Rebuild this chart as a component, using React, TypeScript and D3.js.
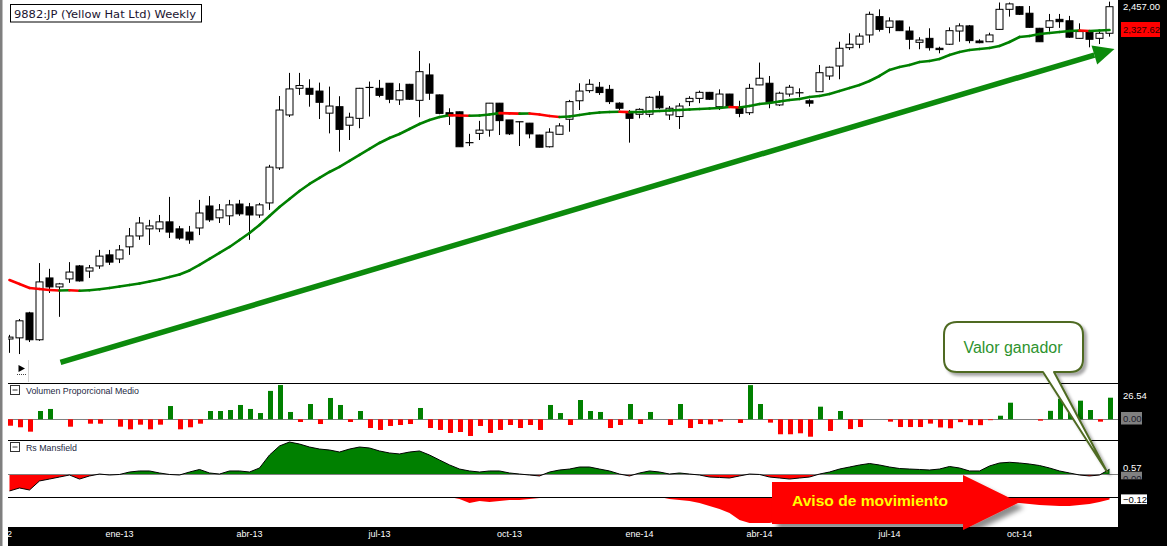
import React from "react";
import * as d3 from "d3";

const WIDTH = 1167;
const HEIGHT = 546;

// Weekly bars of 9882:JP, late Oct 2012 to early Dec 2014 (yen)
const opens = [
  1136, 1139, 1207, 1134, 1309, 1282, 1306, 1346, 1330, 1346,
  1381, 1368, 1407, 1443, 1467, 1467, 1491, 1467, 1456, 1470,
  1547, 1505, 1512, 1554, 1544, 1515, 1558, 1690, 1911, 2033,
  2033, 2020, 1919, 1948, 1866, 1896, 2036, 2033, 2057, 1979,
  2052, 1977, 2097, 2002, 1921, 1925, 1792, 1831, 1845, 1964,
  1889, 1881, 1875, 1824, 1775, 1827, 1892, 1975, 2022, 2038,
  2028, 1964, 1926, 1914, 1914, 1996, 1911, 1904, 1971, 1986,
  2014, 1948, 2006, 1945, 1921, 2049, 2057, 1956, 2006, 2013,
  1975, 2017, 2092, 2141, 2234, 2252, 2301, 2401, 2342, 2377,
  2322, 2262, 2283, 2231, 2252, 2322, 2350, 2269, 2265, 2331,
  2442, 2457, 2420, 2337, 2342, 2386, 2378, 2283, 2319, 2283,
  2310,
];
const highs = [
  1147, 1190, 1210, 1355, 1337, 1294, 1358, 1349, 1349, 1397,
  1397, 1413, 1470, 1508, 1498, 1515, 1580, 1477, 1477, 1569,
  1583, 1554, 1569, 1569, 1558, 1558, 1702, 1997, 2107, 2107,
  2076, 2060, 2041, 1996, 1921, 2035, 2065, 2073, 2058, 2057,
  2054, 2217, 2154, 2004, 1941, 1926, 1829, 1885, 1965, 1965,
  1889, 1882, 1876, 1825, 1853, 1875, 1979, 2057, 2076, 2063,
  2049, 1968, 1933, 1941, 1996, 2020, 1951, 1964, 1996, 2022,
  2016, 2028, 2007, 1975, 2054, 2158, 2092, 2017, 2049, 2033,
  1982, 2146, 2138, 2265, 2310, 2310, 2429, 2442, 2397, 2378,
  2346, 2289, 2337, 2239, 2342, 2364, 2355, 2278, 2313, 2481,
  2481, 2461, 2461, 2339, 2416, 2416, 2405, 2364, 2320, 2319,
  2486,
];
const lows = [
  1100, 1097, 1128, 1131, 1264, 1196, 1294, 1298, 1309, 1337,
  1349, 1355, 1381, 1430, 1413, 1456, 1436, 1430, 1417, 1446,
  1491, 1487, 1480, 1512, 1430, 1505, 1533, 1682, 1902, 2002,
  1948, 1893, 1831, 1755, 1803, 1853, 1904, 1991, 1964, 1956,
  1979, 1901, 1979, 1914, 1867, 1775, 1778, 1803, 1817, 1824,
  1824, 1778, 1810, 1773, 1772, 1826, 1838, 1933, 2012, 2002,
  1960, 1933, 1792, 1896, 1901, 1938, 1889, 1850, 1951, 1964,
  1979, 1933, 1947, 1901, 1911, 2048, 1941, 1951, 1994, 1991,
  1948, 2016, 2073, 2076, 2222, 2231, 2260, 2319, 2310, 2322,
  2226, 2226, 2219, 2205, 2248, 2265, 2257, 2257, 2264, 2328,
  2401, 2410, 2339, 2264, 2319, 2339, 2285, 2281, 2236, 2253,
  2292,
];
const closes = [
  1141, 1185, 1134, 1297, 1282, 1291, 1327, 1300, 1340, 1377,
  1358, 1397, 1443, 1487, 1477, 1491, 1456, 1436, 1430, 1522,
  1498, 1533, 1551, 1519, 1515, 1551, 1693, 1933, 2030, 2046,
  2005, 1968, 1951, 1848, 1901, 2033, 2038, 2000, 1982, 2022,
  1982, 2113, 2010, 1918, 1907, 1775, 1792, 1845, 1964, 1886,
  1829, 1881, 1829, 1773, 1836, 1863, 1971, 2020, 2052, 2013,
  1971, 1941, 1896, 1936, 1991, 1943, 1941, 1951, 1986, 2014,
  1982, 2006, 1948, 1918, 2033, 2081, 1971, 2010, 2038, 2011,
  1964, 2108, 2135, 2231, 2252, 2295, 2414, 2331, 2377, 2324,
  2278, 2274, 2234, 2224, 2324, 2350, 2271, 2260, 2301, 2442,
  2473, 2414, 2342, 2265, 2378, 2373, 2289, 2319, 2278, 2310,
  2457,
];

// Moving average of the close, drawn green while rising and red while falling
const movingAverage = [
  1302.8, 1290.8, 1278.9, 1275.9, 1272.9, 1271.4, 1272.0, 1270.6, 1272.3, 1275.0,
  1278.9, 1283.4, 1287.8, 1292.3, 1298.3, 1304.3, 1312.0, 1319.6, 1331.9, 1349.1,
  1367.9, 1387.2, 1406.6, 1429.6, 1453.1, 1480.3, 1511.6, 1543.5, 1572.4, 1601.8,
  1628.1, 1650.9, 1674.1, 1693.7, 1717.4, 1741.6, 1765.9, 1790.7, 1811.6, 1828.5,
  1849.7, 1871.4, 1888.8, 1902.1, 1909.7, 1908.3, 1907.4, 1908.8, 1913.2, 1919.0,
  1918.1, 1916.8, 1917.7, 1913.2, 1906.5, 1902.1, 1904.3, 1911.0, 1917.7, 1922.2,
  1924.4, 1925.3, 1923.5, 1924.4, 1926.7, 1928.9, 1930.9, 1933.1, 1935.4, 1937.6,
  1939.9, 1942.2, 1946.7, 1944.4, 1951.3, 1960.3, 1964.9, 1971.7, 1978.5, 1983.2,
  1992.5, 1997.1, 2006.4, 2020.4, 2034.5, 2048.8, 2067.7, 2092.0, 2121.3, 2136.2,
  2146.2, 2161.1, 2166.0, 2176.2, 2196.6, 2211.9, 2222.1, 2227.3, 2232.5, 2242.9,
  2263.8, 2290.2, 2295.5, 2306.2, 2311.5, 2316.9, 2322.3, 2325.0, 2322.3, 2325.0,
  2327.62,
];

// Volumen Proporcional Medio (oscillator around zero)
const volumeRatio = [
  -7.9, -9.8, -15.2, 10.2, 12.7, 0, -9.1, 0, -5.4, -5.4,
  0, -9.1, -12.3, -6.6, -12.3, -6.6, 16.3, -12.3, -9.8, -5.4,
  10.2, 10.2, 11.4, 17.6, 12.7, 7.7, 34.9, 42.1, 9.0, -3.3,
  18.8, -5.8, 26.2, 17.6, -3.3, 10.2, -10.7, -13.1, -8.2, -7.0,
  -5.8, 13.9, -10.7, -13.1, -16.8, -15.6, -20.5, -8.2, -16.8, -13.1,
  -7.0, -10.7, -7.0, -13.1, 17.6, 7.7, -7.0, 23.7, 10.2, 9.0,
  -10.7, -7.0, 18.8, -5.8, 9.0, 0, -7.0, 18.8, -10.7, -5.8,
  -6.2, -2.9, 0, -4.5, 42.0, 18.8, -4.1, -18.4, -18.4, -17.2,
  -21.4, 15.5, -14.3, 10.2, -12.0, -9.5, 0, 0, -2.9, -9.5,
  -9.5, -9.5, -5.3, -10.0, -11.0, -3.5, -7.2, -7.2, -1.1, 4.4,
  20.4, 0, 0, -1.7, 10.4, 25.3, 8.6, 22.9, 11.4, -2.9,
  26.54,
];

// Rs Mansfield relative strength
const rsMansfield = [
  -1.9, -1.56, -1.79, -0.76, -0.54, -0.31, -0.08, -0.54, -0.19, 0.03,
  -0.08, -0.02, 0.26, 0.38, 0.38, 0.15, -0.02, -0.08, 0.26, 0.55,
  0.15, 0.03, 0.38, 0.38, 0.26, 0.72, 2.2, 3.23, 3.68, 3.45,
  3.11, 2.88, 2.77, 2.54, 2.88, 3.11, 3.0, 2.66, 2.43, 2.32,
  2.54, 2.66, 2.2, 1.63, 1.07, 0.6, 0.38, 0.26, 0.38, 0.38,
  0.15, 0.03, -0.08, -0.19, 0.26, 0.49, 0.6, 0.83, 0.83, 0.6,
  0.38, 0.03, -0.19, 0.15, 0.38, 0.26, 0.03, 0.15, 0.03, -0.08,
  -0.31, -0.36, -0.42, -0.19, 0.03, -0.02, -0.31, -0.42, -0.54, -0.42,
  -0.31, 0.03, 0.26, 0.6, 0.83, 1.06, 1.23, 1.06, 0.83, 0.66,
  0.6, 0.55, 0.49, 0.6, 0.89, 0.72, 0.38, 0.38, 0.95, 1.29,
  1.37, 1.29, 1.17, 1.0, 0.72, 0.38, 0.15, -0.08, -0.19, -0.08,
  0.57,
];

// Lower Rs Mansfield band (negative readings only)
const rsLower = [
  0, 0, 0, 0, 0, 0, 0, 0, 0, 0,
  0, 0, 0, 0, 0, 0, 0, 0, 0, 0,
  0, 0, 0, 0, 0, 0, 0, 0, 0, 0,
  0, 0, 0, 0, 0, 0, 0, 0, 0, 0,
  0, 0, 0, 0, 0, -0.1, -0.3, -0.2, -0.25, -0.2,
  -0.15, -0.15, -0.1, -0.05, 0, 0, 0, 0, 0, 0,
  0, 0, 0, 0, 0, 0, -0.1, -0.15, -0.2, -0.3,
  -0.45, -0.6, -0.8, -1.15, -1.3, -1.3, -1.3, -1.2, -1.2, -1.2,
  -1.2, -1.2, -1.2, -1.2, -1.2, -1.2, -1.2, -1.2, -1.2, -1.2,
  -1.2, -1.2, -1.2, -1.2, -1.1, -0.9, -0.6, -0.45, -0.35, -0.3,
  -0.3, -0.3, -0.35, -0.4, -0.42, -0.45, -0.45, -0.4, -0.35, -0.25,
  -0.12,
];

const tickLabels = ["oct-12", "ene-13", "abr-13", "jul-13", "oct-13", "ene-14", "abr-14", "jul-14", "oct-14"];
const tickBars = [-1, 11, 24, 37, 50, 63, 75, 88, 101];

// Trend annotation, in bar / price coordinates
const trendFrom = { bar: 5.1, price: 1076 };
const trendTo = { bar: 110.5, price: 2227 };

const GREEN = "#008000";
const RED = "#ff0000";
const UI_FONT = "'Liberation Sans', Arial, sans-serif";
const TITLE_FONT = "'DejaVu Sans', Verdana, sans-serif";

export default function App() {
  const n = closes.length;
  const left = 8;
  const right = 1118;
  const mainBottom = 383;
  const volTop = 383;
  const volBottom = 440.5;
  const rsTop = 440.5;
  const rsBottom = 497;
  const lowTop = 497;
  const lowBottom = 527;

  const x = d3.scaleLinear().domain([0, n - 1]).range([9.5, 1109.5]);
  const yPrice = d3.scaleLog().domain([1025.7, 2495.5]).range([mainBottom, 0]);
  const yVol = d3.scaleLinear().domain([-26.05, 44.6]).range([volBottom, volTop]);
  const yRs = d3.scaleLinear().domain([-2.588, 3.854]).range([rsBottom, rsTop]);
  const yLow = d3.scaleLinear().domain([-1.5, 0]).range([lowBottom, lowTop]);

  const fmtPrice = d3.format(",.2f");
  const fmt2 = d3.format(".2f");

  // candles
  const candles = closes.map((c, i) => {
    const o = opens[i];
    const cx = x(i);
    const yo = yPrice(o);
    const yc = yPrice(c);
    const top = Math.min(yo, yc);
    const bot = Math.max(yo, yc);
    const up = c >= o;
    return (
      <g key={"c" + i}>
        <line x1={cx} x2={cx} y1={yPrice(highs[i])} y2={yPrice(lows[i])} stroke="#000" strokeWidth={1} />
        {bot - top < 1.2 ? (
          <line x1={cx - 4} x2={cx + 4} y1={(top + bot) / 2} y2={(top + bot) / 2} stroke="#000" strokeWidth={1.2} />
        ) : (
          <rect x={cx - 3.5} y={top} width={7} height={bot - top} fill={up ? "#fff" : "#000"} stroke="#000" strokeWidth={1} />
        )}
      </g>
    );
  });

  const maSegments = movingAverage.slice(1).map((v, j) => (
    <line
      key={"m" + j}
      x1={x(j)}
      y1={yPrice(movingAverage[j])}
      x2={x(j + 1)}
      y2={yPrice(v)}
      stroke={v >= movingAverage[j] ? GREEN : RED}
      strokeWidth={2.6}
      strokeLinecap="round"
    />
  ));

  const vZero = yVol(0);
  const volBars = volumeRatio.map((v, i) => {
    if (v === 0) return null;
    const y1 = yVol(v);
    return (
      <rect
        key={"v" + i}
        x={x(i) - 1.5}
        y={Math.min(y1, vZero)}
        width={5}
        height={Math.abs(y1 - vZero)}
        fill={v > 0 ? GREEN : RED}
      />
    );
  });

  const rsZero = yRs(0);
  const rsArea = d3
    .area<number>()
    .x((_, i) => x(i))
    .y0(rsZero)
    .y1((d) => yRs(d))(rsMansfield) as string;
  const rsLine = d3
    .line<number>()
    .x((_, i) => x(i))
    .y((d) => yRs(d))(rsMansfield) as string;
  const lowArea = d3
    .area<number>()
    .x((_, i) => x(i))
    .y0(yLow(0))
    .y1((d) => yLow(d))(rsLower) as string;

  // trend arrow
  const ax1 = x(trendFrom.bar);
  const ay1 = yPrice(trendFrom.price);
  const ax2 = x(trendTo.bar);
  const ay2 = yPrice(trendTo.price);
  const len = Math.hypot(ax2 - ax1, ay2 - ay1);
  const ux = (ax2 - ax1) / len;
  const uy = (ay2 - ay1) / len;
  const headLen = 21;
  const headHalf = 10;
  const bx = ax2 - ux * headLen;
  const by = ay2 - uy * headLen;
  const headPts = [
    [ax2, ay2],
    [bx - uy * headHalf, by + ux * headHalf],
    [bx + uy * headHalf, by - ux * headHalf],
  ]
    .map((p) => p.join(","))
    .join(" ");

  // callout pointing at the latest Rs Mansfield reading
  const tipX = x(n - 1) - 2.5;
  const tipY = yRs(rsMansfield[n - 1]) + 2.5;
  const bxL = 944, bxR = 1083, byT = 322, byB = 372, r = 13;
  const calloutPath = [
    `M${bxL + r},${byT}`,
    `H${bxR - r}`,
    `Q${bxR},${byT} ${bxR},${byT + r}`,
    `V${byB - r}`,
    `Q${bxR},${byB} ${bxR - r},${byB}`,
    `H1054`,
    `L${tipX},${tipY}`,
    `L1043,${byB}`,
    `H${bxL + r}`,
    `Q${bxL},${byB} ${bxL},${byB - r}`,
    `V${byT + r}`,
    `Q${bxL},${byT} ${bxL + r},${byT}`,
    "Z",
  ].join(" ");

  // block arrow "Aviso de movimiento"
  const warnPath = "M772,482 H963 V475 L1019,502.5 L963,530 V524 H772 Z";

  const lastClose = closes[n - 1];
  const lastMa = movingAverage[n - 1];
  const lastVol = volumeRatio[n - 1];
  const lastRs = rsMansfield[n - 1];
  const lastLow = rsLower[n - 1];

  return (
    <div style={{ position: "absolute", left: 0, top: 0, width: WIDTH, height: HEIGHT }}>
      <svg width={WIDTH} height={HEIGHT} viewBox={`0 0 ${WIDTH} ${HEIGHT}`} style={{ display: "block", background: "#fff" }}>
        <defs>
          <clipPath id="plotClip">
            <rect x={left} y={0} width={right - left} height={mainBottom} />
          </clipPath>
          <clipPath id="rsPos">
            <rect x={left} y={rsTop} width={right - left} height={rsZero - rsTop} />
          </clipPath>
          <clipPath id="rsNeg">
            <rect x={left} y={rsZero} width={right - left} height={rsBottom - rsZero} />
          </clipPath>
          <clipPath id="axisClip">
            <rect x={left} y={lowBottom} width={WIDTH - left} height={HEIGHT - lowBottom} />
          </clipPath>
          <clipPath id="rsZeroBox">
            <rect x={1121} y={rsZero - 2.6} width={21} height={7.6} />
          </clipPath>
          <filter id="calloutShadow" x="-20%" y="-20%" width="150%" height="150%">
            <feDropShadow dx="3" dy="3" stdDeviation="1.8" floodColor="#000" floodOpacity="0.35" />
          </filter>
          <filter id="warnShadow" x="-20%" y="-30%" width="150%" height="170%">
            <feDropShadow dx="5" dy="5" stdDeviation="2.5" floodColor="#000" floodOpacity="0.45" />
          </filter>
        </defs>

        <rect x={0} y={0} width={WIDTH} height={HEIGHT} fill="#fff" />
        <rect x={0} y={0} width={2.5} height={HEIGHT} fill="#7f7f7f" />

        {/* price panel */}
        <g clipPath="url(#plotClip)">
          {candles}
          {maSegments}
        </g>

        <rect x={10.5} y={4.5} width={191} height={17.5} fill="#fff" stroke="#000" strokeWidth={1} />
        <text x={14} y={17.5} fontFamily={TITLE_FONT} fontSize={11} fill="#1a1430" textLength={182} lengthAdjust="spacingAndGlyphs">
          9882:JP (Yellow Hat Ltd) Weekly
        </text>

        {/* scroll control */}
        <polygon points="18.5,365 25,368.5 18.5,372" fill="#000" />
        <line x1={17} x2={26} y1={374.5} y2={374.5} stroke="#444" strokeWidth={1} strokeDasharray="1,1" />
        <line x1={28.5} x2={28.5} y1={360} y2={382} stroke="#d4d4d4" strokeWidth={1} />

        {/* volume panel */}
        <line x1={left} x2={right} y1={Math.round(vZero) + 0.5} y2={Math.round(vZero) + 0.5} stroke="#808080" strokeWidth={1} />
        {volBars}

        {/* Rs Mansfield panel */}
        <path d={rsArea} fill={GREEN} clipPath="url(#rsPos)" />
        <path d={rsArea} fill={RED} clipPath="url(#rsNeg)" />
        <line x1={left} x2={right} y1={Math.round(rsZero) + 0.5} y2={Math.round(rsZero) + 0.5} stroke="#808080" strokeWidth={1} />
        <path d={rsLine} fill="none" stroke="#000" strokeWidth={1} />

        {/* lower band */}
        <path d={lowArea} fill={RED} />

        {/* panel separators */}
        {[volTop, rsTop, lowTop].map((yy) => (
          <line key={"s" + yy} x1={left} x2={right} y1={Math.floor(yy) + 0.5} y2={Math.floor(yy) + 0.5} stroke="#000" strokeWidth={1} />
        ))}

        {/* panel headers */}
        {[
          { y: 385.5, label: "Volumen Proporcional Medio", len: 113 },
          { y: 442.5, label: "Rs Mansfield", len: 51 },
        ].map((h) => (
          <g key={h.label}>
            <rect x={10.5} y={h.y} width={9} height={9} fill="#fff" stroke="#333" strokeWidth={1} />
            <line x1={12.5} x2={17.5} y1={h.y + 4.5} y2={h.y + 4.5} stroke="#333" strokeWidth={1} />
            <text x={26} y={h.y + 8.5} fontFamily={UI_FONT} fontSize={9} fill="#1e2a44" textLength={h.len} lengthAdjust="spacingAndGlyphs">
              {h.label}
            </text>
          </g>
        ))}

        {/* right value column */}
        <rect x={right} y={0} width={WIDTH - right} height={HEIGHT} fill="#000" />
        <text x={1123} y={yPrice(lastClose) + 3.7} fontFamily={UI_FONT} fontSize={9.5} fill="#fff">
          {fmtPrice(lastClose)}
        </text>
        <rect x={1121} y={yPrice(lastMa) - 8} width={39} height={15} fill={RED} />
        <text x={1123} y={yPrice(lastMa) + 3.3} fontFamily={UI_FONT} fontSize={9.5} fill="#2a0000">
          {fmtPrice(lastMa)}
        </text>

        <text x={1123} y={yVol(lastVol) + 1.6} fontFamily={UI_FONT} fontSize={9.5} fill="#fff">
          {fmt2(lastVol)}
        </text>
        <rect x={1121} y={vZero - 7.3} width={21} height={12.5} fill="#808080" />
        <text x={1123} y={vZero + 3.2} fontFamily={UI_FONT} fontSize={9.5} fill="#1c1c2c">
          {fmt2(0)}
        </text>

        {/* Rs zero tag sits just under the latest-value tag */}
        <rect x={1121} y={rsZero - 2.6} width={21} height={7.6} fill="#808080" />
        <text x={1123} y={rsZero + 7.2} fontFamily={UI_FONT} fontSize={9.5} fill="#1c1c2c" clipPath="url(#rsZeroBox)">
          {fmt2(0)}
        </text>
        <text x={1123} y={yRs(lastRs) + 1.2} fontFamily={UI_FONT} fontSize={9.5} fill="#fff">
          {fmt2(lastRs)}
        </text>

        <rect x={1121} y={yLow(lastLow) - 5} width={26} height={9.7} fill="#fff" />
        <text x={1123} y={yLow(lastLow) + 3.3} fontFamily={UI_FONT} fontSize={9.5} fill="#000">
          {fmt2(lastLow)}
        </text>

        {/* date axis */}
        <rect x={left} y={lowBottom} width={WIDTH - left} height={HEIGHT - lowBottom} fill="#000" />
        <g clipPath="url(#axisClip)">
          {tickLabels.map((t, i) => (
            <text key={t} x={x(tickBars[i])} y={537.3} textAnchor="middle" fontFamily={UI_FONT} fontSize={9} fill="#fff">
              {t}
            </text>
          ))}
        </g>

        {/* trend arrow */}
        <line x1={ax1} y1={ay1} x2={bx} y2={by} stroke="#0c8a0c" strokeWidth={5.5} />
        <polygon points={headPts} fill="#0c8a0c" />

        {/* callout */}
        <path d={calloutPath} fill="#fff" stroke="#4f6b24" strokeWidth={2} strokeLinejoin="round" filter="url(#calloutShadow)" />
        <text x={1013} y={353} textAnchor="middle" fontFamily={UI_FONT} fontSize={16} fill="#2e932e" textLength={99} lengthAdjust="spacingAndGlyphs">
          Valor ganador
        </text>

        {/* movement warning arrow */}
        <path d={warnPath} fill={RED} filter="url(#warnShadow)" />
        <text x={870} y={505.5} textAnchor="middle" fontFamily={UI_FONT} fontWeight="bold" fontSize={15.5} fill="#ffff00" textLength={156} lengthAdjust="spacingAndGlyphs">
          Aviso de movimiento
        </text>
      </svg>
    </div>
  );
}
